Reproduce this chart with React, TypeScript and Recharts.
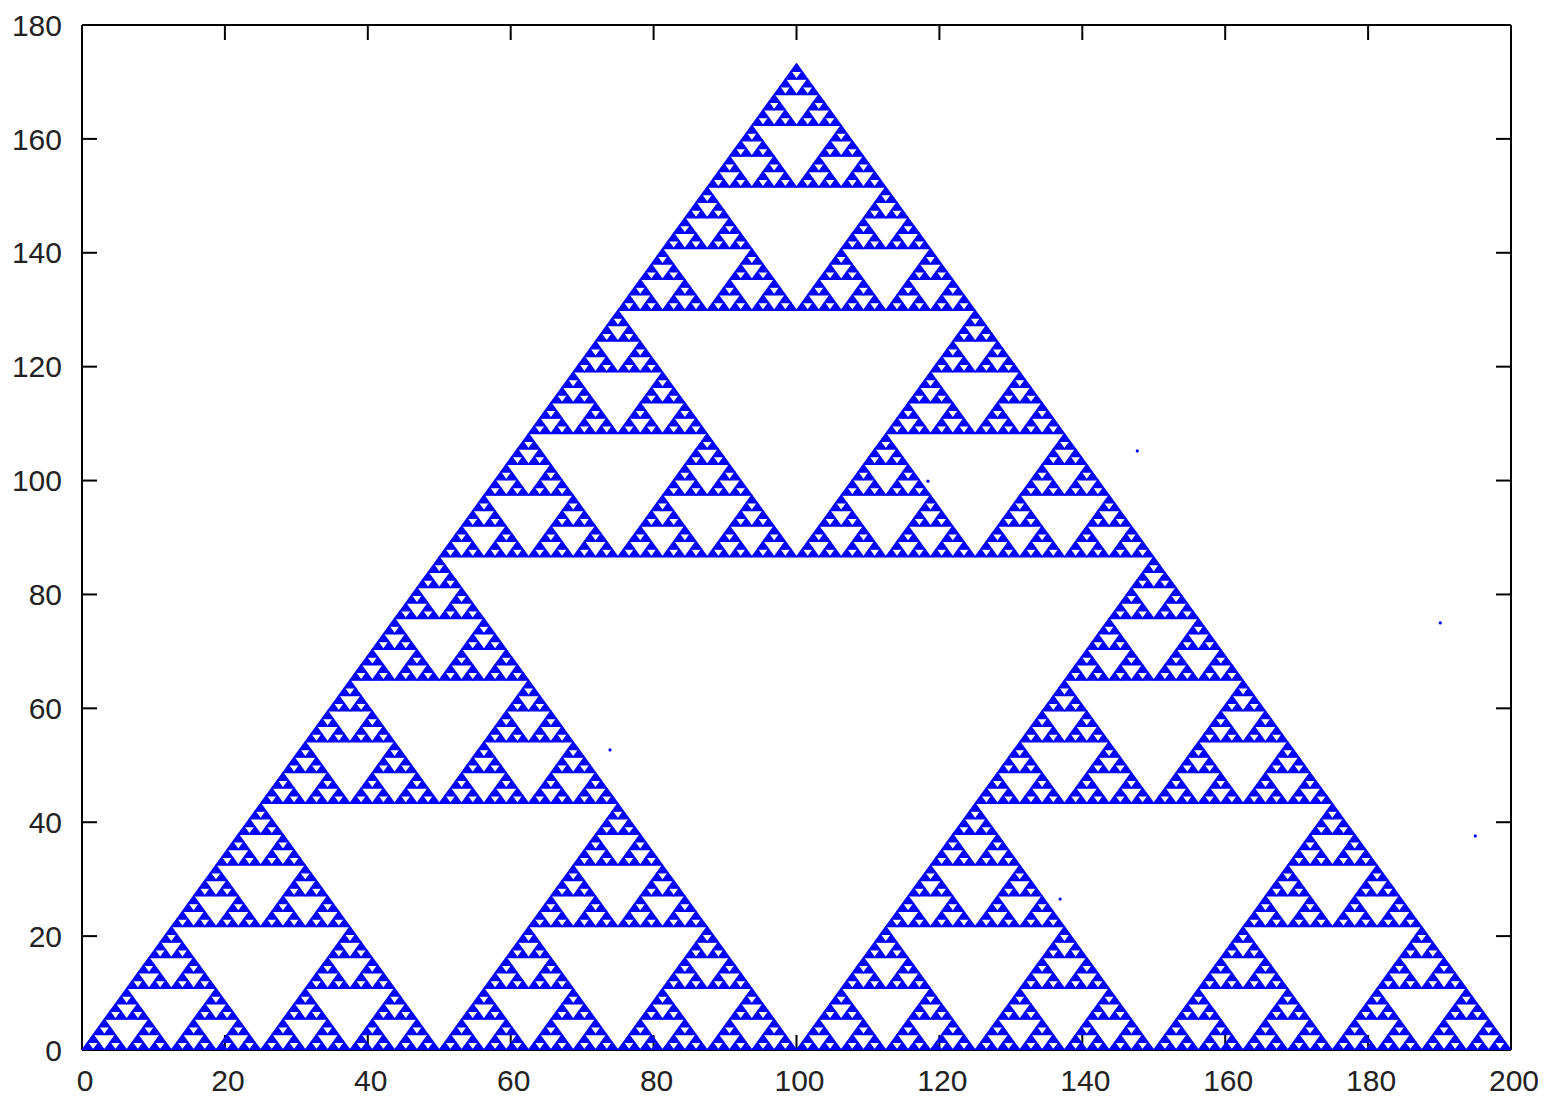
import { ScatterChart, Scatter, XAxis, YAxis } from "recharts";

const xTicks = [0, 20, 40, 60, 80, 100, 120, 140, 160, 180, 200];
const yTicks = [0, 20, 40, 60, 80, 100, 120, 140, 160, 180];

// corners of the big triangle
const cornerX = [0, 200, 100];
const cornerY = [0, 0, 173.2];
// how many times the triangle is split before the dots blur together
const depth = 7;

// lone points left outside the figure
const strayX = [147.7, 190.1, 195.0, 73.9, 136.9, 118.4];
const strayY = [105.2, 75.0, 37.6, 52.7, 26.5, 99.9];

const W = 1538;
const H = 1089;
const margin = { top: 16, right: 34, bottom: 0, left: 0 };
const yAxisW = 74;
const xAxisH = 47;
const plotW = W - margin.left - margin.right - yAxisW - 1;
const plotH = H - margin.top - margin.bottom - xAxisH - 1;
const kx = plotW / 200;
const ky = plotH / 180;

const BLUE = "#0000ff";
const font = { fontFamily: "'Liberation Sans', Arial, sans-serif", fontSize: 30, fill: "#222" };
const frame = { stroke: "#000", strokeWidth: 2 };

type Tri = { x: number; y: number; w: number; h: number };

// keep the three corner sub-triangles, drop the middle one
function split(x0: number, y0: number, w: number, h: number, n: number, out: Tri[]) {
  if (n === 0) {
    out.push({ x: x0 + w / 2, y: y0, w, h });
    return;
  }
  split(x0, y0, w / 2, h / 2, n - 1, out);
  split(x0 + w / 2, y0, w / 2, h / 2, n - 1, out);
  split(x0 + w / 4, y0 + h / 2, w / 2, h / 2, n - 1, out);
}

const tris: Tri[] = [];
split(cornerX[0], cornerY[0], cornerX[1] - cornerX[0], cornerY[2] - cornerY[0], depth, tris);

const stray = strayX.map((x, i) => ({ x, y: strayY[i] }));

const TriShape = (props: any) => {
  const { cx, cy, payload } = props;
  const hw = (payload.w * kx) / 2;
  const th = payload.h * ky;
  return (
    <polygon
      points={`${cx - hw},${cy} ${cx + hw},${cy} ${cx},${cy - th}`}
      fill={BLUE}
      stroke={BLUE}
      strokeWidth={1.3}
      strokeLinejoin="round"
    />
  );
};

const Dot = (props: any) => <circle cx={props.cx} cy={props.cy} r={1.6} fill={BLUE} />;

export default function App() {
  return (
    <ScatterChart width={W} height={H} margin={margin}>
      <XAxis
        xAxisId="b"
        type="number"
        dataKey="x"
        domain={[0, 200]}
        ticks={xTicks}
        allowDataOverflow
        height={xAxisH}
        axisLine={frame}
        tickLine={frame}
        tickSize={-15}
        tickMargin={35}
        tick={{ ...font, dx: 3 }}
        interval={0}
      />
      <XAxis
        xAxisId="t"
        orientation="top"
        type="number"
        dataKey="x"
        domain={[0, 200]}
        ticks={xTicks}
        allowDataOverflow
        height={1}
        axisLine={frame}
        tickLine={frame}
        tickSize={-15}
        tickFormatter={() => ""}
        interval={0}
      />
      <YAxis
        yAxisId="l"
        type="number"
        dataKey="y"
        domain={[0, 180]}
        ticks={yTicks}
        allowDataOverflow
        width={yAxisW}
        axisLine={frame}
        tickLine={frame}
        tickSize={-15}
        tickMargin={35}
        tick={font}
        interval={0}
      />
      <YAxis
        yAxisId="r"
        orientation="right"
        type="number"
        dataKey="y"
        domain={[0, 180]}
        ticks={yTicks}
        allowDataOverflow
        width={1}
        axisLine={frame}
        tickLine={frame}
        tickSize={-15}
        tickFormatter={() => ""}
        interval={0}
      />
      <Scatter
        xAxisId="b"
        yAxisId="l"
        data={tris}
        shape={TriShape}
        isAnimationActive={false}
      />
      <Scatter
        xAxisId="t"
        yAxisId="r"
        data={stray}
        shape={Dot}
        isAnimationActive={false}
      />
    </ScatterChart>
  );
}
